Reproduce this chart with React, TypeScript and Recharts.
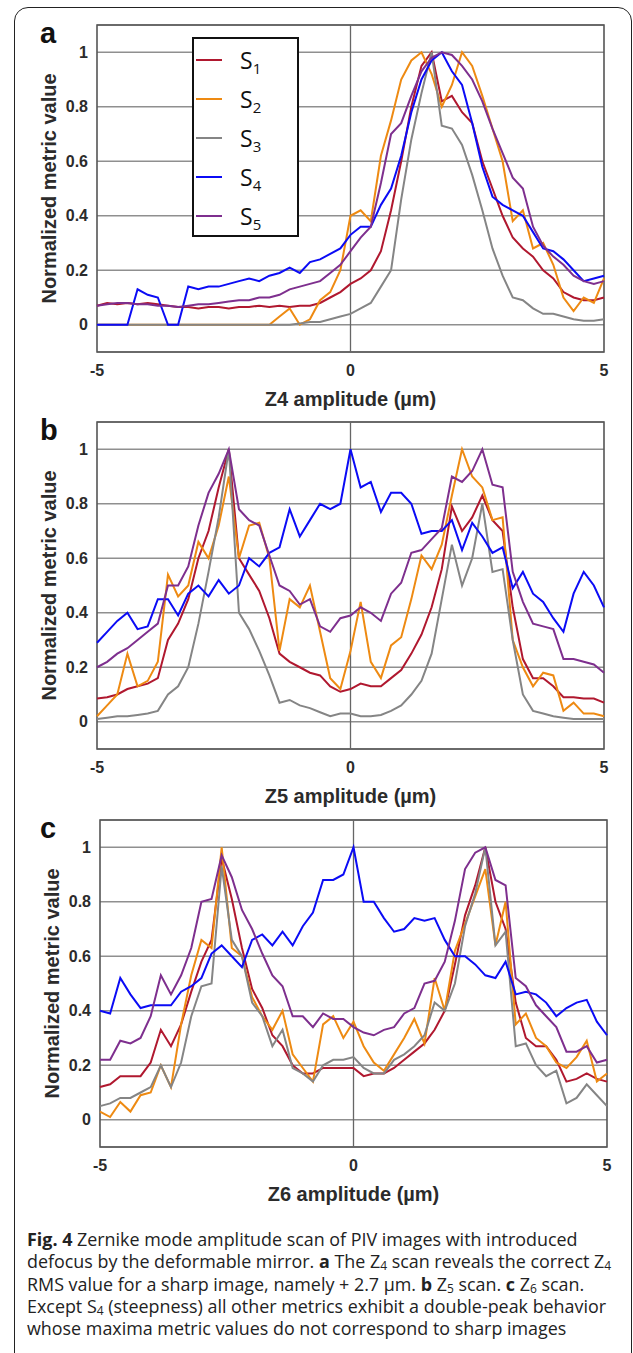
import React from "react";
import {
  LineChart,
  Line,
  XAxis,
  YAxis,
  CartesianGrid,
  ReferenceLine,
  ReferenceArea,
  Legend,
} from "recharts";

// Zernike amplitude grid (µm), shared by the three scans
const xs = [
  -5, -4.8, -4.6, -4.4, -4.2, -4, -3.8, -3.6, -3.4, -3.2, -3, -2.8, -2.6, -2.4, -2.2, -2, -1.8,
  -1.6, -1.4, -1.2, -1, -0.8, -0.6, -0.4, -0.2, 0, 0.2, 0.4, 0.6, 0.8, 1, 1.2, 1.4, 1.6, 1.8, 2,
  2.2, 2.4, 2.6, 2.8, 3, 3.2, 3.4, 3.6, 3.8, 4, 4.2, 4.4, 4.6, 4.8, 5,
];

// a — Z4 scan
const z4S1 = [0.07, 0.08, 0.075, 0.08, 0.075, 0.08, 0.075, 0.07, 0.065, 0.065, 0.06, 0.065, 0.065, 0.06, 0.065, 0.065, 0.07, 0.065, 0.07, 0.065, 0.07, 0.07, 0.08, 0.1, 0.12, 0.15, 0.17, 0.2, 0.27, 0.42, 0.6, 0.8, 0.95, 1, 0.82, 0.84, 0.78, 0.74, 0.6, 0.5, 0.4, 0.32, 0.28, 0.25, 0.2, 0.17, 0.12, 0.1, 0.09, 0.09, 0.1];
const z4S2 = [0, 0, 0, 0, 0, 0, 0, 0, 0, 0, 0, 0, 0, 0, 0, 0, 0, 0, 0.03, 0.06, 0, 0.02, 0.09, 0.12, 0.2, 0.4, 0.42, 0.38, 0.62, 0.75, 0.9, 0.97, 1, 0.92, 0.8, 0.88, 1, 0.95, 0.84, 0.72, 0.6, 0.38, 0.42, 0.28, 0.3, 0.22, 0.1, 0.05, 0.1, 0.08, 0.17];
const z4S3 = [0, 0, 0, 0, 0, 0, 0, 0, 0, 0, 0, 0, 0, 0, 0, 0, 0, 0, 0, 0, 0.005, 0.01, 0.01, 0.02, 0.03, 0.04, 0.06, 0.08, 0.14, 0.2, 0.46, 0.68, 0.85, 1, 0.73, 0.72, 0.66, 0.55, 0.42, 0.28, 0.18, 0.1, 0.09, 0.06, 0.04, 0.04, 0.03, 0.02, 0.015, 0.015, 0.02];
const z4S4 = [0, 0, 0, 0, 0.13, 0.11, 0.1, 0, 0, 0.14, 0.13, 0.14, 0.14, 0.15, 0.16, 0.17, 0.16, 0.18, 0.19, 0.21, 0.19, 0.23, 0.24, 0.26, 0.28, 0.33, 0.36, 0.36, 0.44, 0.5, 0.62, 0.78, 0.9, 0.97, 1, 0.93, 0.88, 0.74, 0.58, 0.47, 0.44, 0.42, 0.4, 0.34, 0.28, 0.27, 0.24, 0.2, 0.16, 0.17, 0.18];
const z4S5 = [0.07, 0.075, 0.08, 0.08, 0.075, 0.075, 0.07, 0.07, 0.065, 0.07, 0.075, 0.075, 0.08, 0.085, 0.09, 0.09, 0.1, 0.1, 0.11, 0.13, 0.14, 0.15, 0.16, 0.19, 0.22, 0.27, 0.32, 0.36, 0.52, 0.7, 0.74, 0.84, 0.93, 0.98, 1, 0.99, 0.95, 0.9, 0.82, 0.72, 0.63, 0.54, 0.5, 0.36, 0.29, 0.25, 0.22, 0.18, 0.16, 0.15, 0.16];

// b — Z5 scan
const z5S1 = [0.085, 0.09, 0.1, 0.12, 0.13, 0.14, 0.16, 0.3, 0.36, 0.45, 0.6, 0.7, 0.86, 1, 0.6, 0.54, 0.48, 0.38, 0.25, 0.22, 0.2, 0.18, 0.17, 0.13, 0.11, 0.12, 0.14, 0.13, 0.13, 0.16, 0.19, 0.25, 0.32, 0.42, 0.56, 0.79, 0.7, 0.75, 0.83, 0.74, 0.7, 0.42, 0.23, 0.16, 0.16, 0.13, 0.09, 0.09, 0.085, 0.085, 0.07];
const z5S2 = [0.02, 0.06, 0.1, 0.25, 0.13, 0.15, 0.22, 0.54, 0.46, 0.5, 0.66, 0.6, 0.72, 0.9, 0.6, 0.72, 0.73, 0.6, 0.26, 0.45, 0.42, 0.5, 0.33, 0.16, 0.12, 0.26, 0.44, 0.22, 0.16, 0.28, 0.31, 0.45, 0.61, 0.56, 0.65, 0.83, 1, 0.9, 0.86, 0.74, 0.75, 0.3, 0.2, 0.13, 0.18, 0.17, 0.04, 0.07, 0.03, 0.03, 0.02];
const z5S3 = [0.01, 0.015, 0.02, 0.02, 0.025, 0.03, 0.04, 0.1, 0.13, 0.2, 0.36, 0.55, 0.75, 1, 0.4, 0.34, 0.26, 0.17, 0.07, 0.08, 0.06, 0.05, 0.035, 0.02, 0.03, 0.03, 0.02, 0.02, 0.025, 0.04, 0.06, 0.1, 0.15, 0.25, 0.45, 0.65, 0.5, 0.6, 0.8, 0.55, 0.56, 0.3, 0.1, 0.04, 0.03, 0.02, 0.015, 0.01, 0.01, 0.01, 0.01];
const z5S4 = [0.29, 0.33, 0.37, 0.4, 0.34, 0.35, 0.45, 0.45, 0.39, 0.47, 0.5, 0.46, 0.52, 0.47, 0.5, 0.6, 0.57, 0.62, 0.64, 0.78, 0.68, 0.74, 0.8, 0.78, 0.8, 1, 0.86, 0.88, 0.77, 0.84, 0.84, 0.8, 0.69, 0.7, 0.7, 0.74, 0.63, 0.73, 0.68, 0.62, 0.64, 0.49, 0.55, 0.47, 0.44, 0.38, 0.33, 0.47, 0.55, 0.5, 0.42];
const z5S5 = [0.2, 0.22, 0.25, 0.27, 0.3, 0.33, 0.36, 0.5, 0.5, 0.57, 0.72, 0.84, 0.91, 1, 0.78, 0.74, 0.72, 0.61, 0.5, 0.48, 0.43, 0.45, 0.35, 0.33, 0.38, 0.39, 0.42, 0.4, 0.37, 0.47, 0.51, 0.62, 0.63, 0.67, 0.71, 0.9, 0.88, 0.92, 1, 0.87, 0.86, 0.55, 0.44, 0.36, 0.35, 0.34, 0.23, 0.23, 0.22, 0.21, 0.18];

// c — Z6 scan
const z6S1 = [0.12, 0.13, 0.16, 0.16, 0.16, 0.21, 0.33, 0.27, 0.35, 0.47, 0.58, 0.66, 0.96, 0.81, 0.63, 0.48, 0.41, 0.31, 0.27, 0.2, 0.17, 0.17, 0.19, 0.19, 0.19, 0.19, 0.16, 0.17, 0.17, 0.19, 0.22, 0.25, 0.28, 0.33, 0.4, 0.57, 0.75, 0.86, 1, 0.8, 0.7, 0.43, 0.3, 0.27, 0.27, 0.22, 0.14, 0.15, 0.17, 0.15, 0.14];
const z6S2 = [0.03, 0.01, 0.065, 0.03, 0.09, 0.1, 0.2, 0.12, 0.35, 0.53, 0.66, 0.63, 1, 0.63, 0.6, 0.45, 0.38, 0.33, 0.4, 0.24, 0.19, 0.14, 0.35, 0.38, 0.3, 0.36, 0.27, 0.21, 0.18, 0.24, 0.3, 0.37, 0.28, 0.52, 0.4, 0.62, 0.72, 0.82, 0.92, 0.64, 0.8, 0.35, 0.39, 0.3, 0.27, 0.21, 0.19, 0.23, 0.29, 0.14, 0.17];
const z6S3 = [0.05, 0.06, 0.08, 0.08, 0.1, 0.12, 0.2, 0.12, 0.21, 0.38, 0.49, 0.5, 0.93, 0.66, 0.6, 0.43, 0.38, 0.27, 0.33, 0.19, 0.17, 0.14, 0.2, 0.22, 0.22, 0.23, 0.19, 0.17, 0.17, 0.22, 0.24, 0.27, 0.31, 0.43, 0.4, 0.5, 0.71, 0.83, 1, 0.64, 0.69, 0.27, 0.28, 0.2, 0.16, 0.18, 0.06, 0.08, 0.13, 0.09, 0.05];
const z6S4 = [0.4, 0.39, 0.52, 0.46, 0.41, 0.42, 0.42, 0.42, 0.47, 0.49, 0.52, 0.61, 0.64, 0.6, 0.56, 0.66, 0.68, 0.64, 0.69, 0.64, 0.71, 0.76, 0.88, 0.88, 0.9, 1, 0.8, 0.8, 0.74, 0.69, 0.7, 0.74, 0.73, 0.74, 0.66, 0.6, 0.6, 0.57, 0.53, 0.52, 0.58, 0.46, 0.47, 0.46, 0.43, 0.38, 0.41, 0.43, 0.44, 0.36, 0.31];
const z6S5 = [0.22, 0.22, 0.29, 0.28, 0.3, 0.38, 0.53, 0.46, 0.53, 0.63, 0.8, 0.81, 0.97, 0.89, 0.77, 0.7, 0.61, 0.53, 0.49, 0.38, 0.38, 0.34, 0.39, 0.37, 0.37, 0.34, 0.32, 0.31, 0.33, 0.34, 0.39, 0.41, 0.5, 0.51, 0.58, 0.73, 0.92, 0.98, 1, 0.88, 0.86, 0.52, 0.49, 0.42, 0.38, 0.34, 0.25, 0.25, 0.27, 0.21, 0.22];

const yTicks = [0, 0.2, 0.4, 0.6, 0.8, 1];
const xTicks = [-5, 0, 5];

const series = [
  { key: "s1", sub: "1", color: "#b0182f" },
  { key: "s2", sub: "2", color: "#ee8a12" },
  { key: "s3", sub: "3", color: "#858585" },
  { key: "s4", sub: "4", color: "#0b0bf5" },
  { key: "s5", sub: "5", color: "#7e2f8e" },
];

const AXIS_FONT = "'Liberation Sans', Arial, sans-serif";
const INK = "#2b2b2b";

function toRows(cols: number[][]) {
  return xs.map((x, i) => ({
    x,
    s1: cols[0][i],
    s2: cols[1][i],
    s3: cols[2][i],
    s4: cols[3][i],
    s5: cols[4][i],
  }));
}

// eslint-disable-next-line @typescript-eslint/no-explicit-any
function LegendBox({ payload }: any) {
  return (
    <div
      style={{
        width: 107,
        height: 200,
        boxSizing: "border-box",
        border: "2px solid #111",
        background: "#fff",
        paddingTop: 1,
      }}
    >
      {/* eslint-disable-next-line @typescript-eslint/no-explicit-any */}
      {(payload || []).map((p: any) => {
        const s = series.find((d) => d.key === p.dataKey);
        return (
          <div key={p.dataKey} style={{ display: "flex", alignItems: "center", height: 39 }}>
            <span
              style={{
                display: "inline-block",
                width: 26,
                height: 2,
                background: p.color,
                marginLeft: 2,
                marginRight: 18,
              }}
            />
            <span style={{ fontFamily: "'Open Sans', sans-serif", fontSize: 23, color: "#111", lineHeight: "22px" }}>
              S<sub style={{ fontSize: 15, verticalAlign: "-5px", lineHeight: 0 }}>{s?.sub}</sub>
            </span>
          </div>
        );
      })}
    </div>
  );
}

// eslint-disable-next-line @typescript-eslint/no-explicit-any
function YLabel({ viewBox }: any) {
  const x = viewBox.x + 12;
  const y = viewBox.y + viewBox.height / 2;
  return (
    <text
      x={x}
      y={y}
      dy={7}
      transform={`rotate(-90, ${x}, ${y})`}
      textAnchor="middle"
      fontFamily={AXIS_FONT}
      fontWeight="bold"
      fontSize={20}
      fill={INK}
    >
      Normalized metric value
    </text>
  );
}

interface PanelProps {
  top: number;
  letter: string;
  xLabel: string;
  cols: number[][];
  shift?: number;
  withLegend?: boolean;
}

function Panel({ top, letter, xLabel, cols, shift = 0, withLegend = false }: PanelProps) {
  const data = toRows(cols);
  return (
    <div style={{ position: "absolute", left: 0, top, width: 633, height: 410 }}>
      <LineChart
        width={633}
        height={410}
        data={data}
        margin={{ top: 25, right: 29 - shift, bottom: 0, left: 37 + shift }}
      >
        <CartesianGrid vertical={false} stroke="#8f8f8f" strokeWidth={1.4} />
        <XAxis
          type="number"
          dataKey="x"
          domain={[-5, 5]}
          ticks={xTicks}
          height={58}
          axisLine={false}
          tickLine={false}
          tickMargin={7}
          tick={{ fontFamily: AXIS_FONT, fontWeight: "bold", fontSize: 16, fill: INK }}
          label={{
            value: xLabel,
            position: "insideBottom",
            offset: 4,
            style: { fontFamily: AXIS_FONT, fontWeight: "bold", fontSize: 20, fill: INK },
          }}
        />
        <YAxis
          type="number"
          domain={[-0.1, 1.1]}
          ticks={yTicks}
          width={60}
          axisLine={false}
          tickLine={false}
          tickMargin={3}
          tick={{ fontFamily: AXIS_FONT, fontWeight: "bold", fontSize: 16, fill: INK }}
          label={{ content: <YLabel /> }}
        />
        <ReferenceLine x={0} stroke="#666" strokeWidth={1.3} />
        {series.map((s) => (
          <Line
            key={s.key}
            type="linear"
            dataKey={s.key}
            name={`S${s.sub}`}
            stroke={s.color}
            strokeWidth={2}
            dot={false}
            isAnimationActive={false}
          />
        ))}
        <ReferenceArea
          x1={-5}
          x2={5}
          y1={-0.1}
          y2={1.1}
          fill="none"
          fillOpacity={0}
          stroke="#555"
          strokeWidth={1.6}
        />
        {withLegend && (
          <Legend
            layout="vertical"
            align="center"
            verticalAlign="middle"
            content={<LegendBox />}
            wrapperStyle={{ left: 192, top: 37, width: 107, height: 200 }}
          />
        )}
      </LineChart>
      <div
        style={{
          position: "absolute",
          left: 40,
          top: 19,
          fontFamily: AXIS_FONT,
          fontWeight: "bold",
          fontSize: 29,
          lineHeight: "28px",
          color: "#111",
        }}
      >
        {letter}
      </div>
    </div>
  );
}

export default function App() {
  const sub = { fontSize: 12, verticalAlign: "-2px", lineHeight: "12px" } as React.CSSProperties;
  return (
    <div
      style={{
        position: "absolute",
        left: 0,
        top: 0,
        width: 633,
        height: 1353,
        overflow: "hidden",
        background: "#fff",
      }}
    >
      <div
        style={{
          position: "absolute",
          left: 14,
          top: 7,
          width: 618,
          height: 1380,
          boxSizing: "border-box",
          border: "1.5px solid #222",
          borderRadius: 14,
        }}
      />
      <Panel top={0} letter="a" xLabel="Z4 amplitude (µm)" cols={[z4S1, z4S2, z4S3, z4S4, z4S5]} withLegend />
      <Panel top={397} letter="b" xLabel="Z5 amplitude (µm)" cols={[z5S1, z5S2, z5S3, z5S4, z5S5]} />
      <Panel top={795} letter="c" xLabel="Z6 amplitude (µm)" cols={[z6S1, z6S2, z6S3, z6S4, z6S5]} shift={3} />
      <div
        style={{
          position: "absolute",
          left: 27,
          top: 1228,
          fontFamily: "'Open Sans', sans-serif",
          fontSize: 17.9,
          lineHeight: "22.3px",
          color: "#222",
          whiteSpace: "nowrap",
        }}
      >
        <div style={{ height: 22.3 }}>
          <b>Fig. 4</b> Zernike mode amplitude scan of PIV images with introduced
        </div>
        <div style={{ height: 22.3 }}>
          defocus by the deformable mirror. <b>a</b> The Z<sub style={sub}>4</sub> scan reveals the correct Z
          <sub style={sub}>4</sub>
        </div>
        <div style={{ height: 22.3 }}>
          RMS value for a sharp image, namely + 2.7 µm. <b>b</b> Z<sub style={sub}>5</sub> scan. <b>c</b> Z
          <sub style={sub}>6</sub> scan.
        </div>
        <div style={{ height: 22.3 }}>
          Except S<sub style={sub}>4</sub> (steepness) all other metrics exhibit a double-peak behavior
        </div>
        <div style={{ height: 22.3 }}>whose maxima metric values do not correspond to sharp images</div>
      </div>
    </div>
  );
}
